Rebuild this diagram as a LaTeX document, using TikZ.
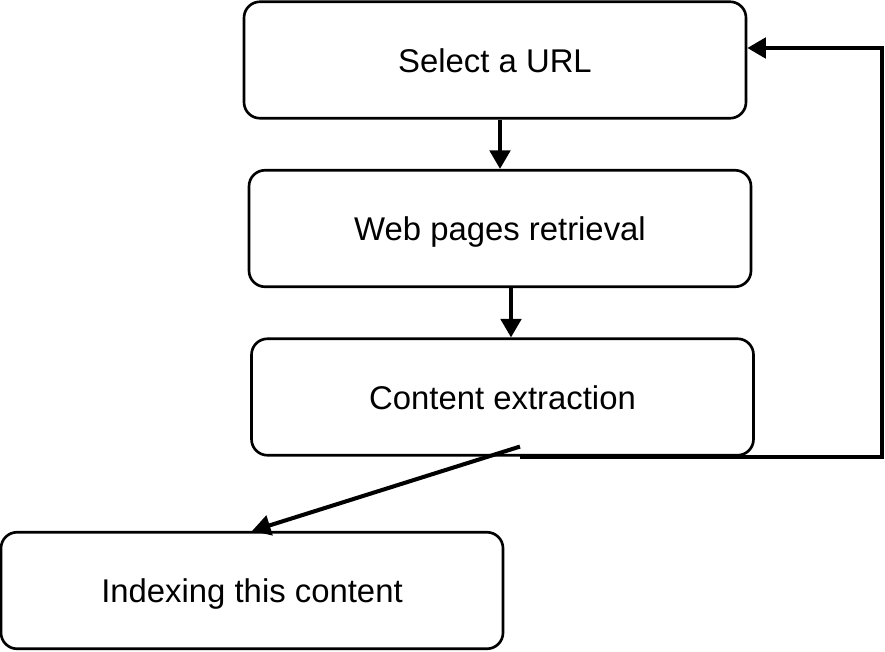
\documentclass[tikz,border=0pt]{standalone}
\usepackage{fontspec}
\setmainfont{Liberation Sans}
\usetikzlibrary{arrows.meta}

\begin{document}
\begin{tikzpicture}[box/.style={draw,line width=1.5pt,rounded corners=0.32cm,minimum width=10.04cm,minimum height=2.33cm,inner sep=0pt,text height=14pt,text depth=0pt,font=\fontsize{18.7}{22}\selectfont},
  arr/.style={line width=2.3pt,-{Triangle[length=10.5pt,width=11.5pt]}}]
  \useasboundingbox (0,0) rectangle (17.7,-13.02);
  % steps
  \node[box] (url) at (9.9,-1.2) {Select a URL};
  \node[box] (retrieval) at (10.0,-4.57) {Web pages retrieval};
  \node[box] (extraction) at (10.05,-7.94) {Content extraction};
  \node[box] (indexing) at (5.04,-11.81) {Indexing this content};
  % arrows
  \draw[arr] (url.south -| retrieval.north) -- (retrieval.north);
  \draw[arr] ([xshift=0.22cm]retrieval.south) -- ([xshift=0.22cm]retrieval.south |- extraction.north);
  \draw[arr] ([xshift=0.35cm]extraction.south) -- ++(7.24,0) |- ([yshift=0.24cm]url.east);
  \draw[arr] ([xshift=0.35cm,yshift=0.2cm]extraction.south) -- (indexing.north);
\end{tikzpicture}
\end{document}
